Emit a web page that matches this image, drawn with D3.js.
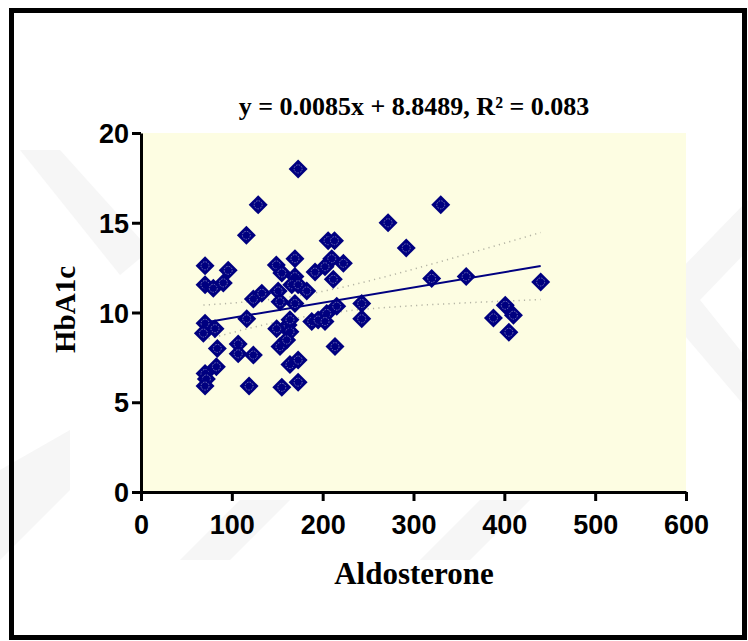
<!DOCTYPE html>
<html>
<head>
<meta charset="utf-8">
<script src="https://cdn.jsdelivr.net/npm/d3@7"></script>
<style>
	body { margin: 0; background: #fff; }
	svg { display: block; }
</style>
</head>
<body>
<div id="chart"></div>
<script>
// Aldosterone (x) vs HbA1c (y)
const aldosterone = [
	173, 129, 116, 330, 272, 292, 320, 358, 440, 243,
	243, 401, 388, 410, 405, 206, 213, 169.5, 210, 149,
	155, 222.8, 202.6, 191.6, 169.5, 211.7, 70.5, 96, 70.5, 79.6,
	90.6, 123.7, 133, 151, 166, 173, 182.5, 153, 169.5, 215.5,
	204.5, 116.4, 70.5, 81.5, 68.7, 149.4, 162, 164, 164, 188,
	195, 202.6, 84, 107, 107, 123.7, 153, 160.4, 213.6, 83,
	70.5, 72, 164, 173, 70.5, 119, 155, 173
]
const hba1c = [
	18.0, 16.0, 14.3, 16.0, 15.0, 13.6, 11.9, 12.0, 11.7, 10.5,
	9.65, 10.4, 9.7, 9.85, 8.9, 14.0, 14.0, 13.0, 13.0, 12.65,
	12.2, 12.74, 12.55, 12.25, 12.0, 11.85, 12.6, 12.35, 11.55, 11.35,
	11.65, 10.75, 11.07, 11.2, 11.55, 11.55, 11.2, 10.6, 10.5, 10.35,
	9.95, 9.65, 9.4, 9.1, 8.85, 9.1, 9.3, 8.93, 9.6, 9.5,
	9.58, 9.5, 8.0, 8.25, 7.7, 7.63, 8.1, 8.47, 8.1, 6.98,
	6.6, 6.3, 7.1, 7.35, 5.9, 5.9, 5.83, 6.12
]
const slope = 0.0085, intercept = 8.8489
const title = 'y = 0.0085x + 8.8489, R² = 0.083'
const xTicks = [0, 100, 200, 300, 400, 500, 600]
const yTicks = [0, 5, 10, 15, 20]

const W = 748, H = 641
const svg = d3.select('#chart').append('svg')
	.attr('width', W)
	.attr('height', H)

// faint watermark
const wm = svg.append('g').attr('fill', '#f6f6f6')
wm.append('path').attr('d', 'M20,150 L60,150 L150,250 L120,275 Z')
wm.append('path').attr('d', 'M0,470 L0,560 L70,490 L70,430 Z')
wm.append('path').attr('d', 'M748,200 L748,250 L700,300 L748,360 L748,410 L680,330 L680,270 Z')
wm.append('path').attr('d', 'M180,560 L240,500 L290,500 L230,560 Z')
wm.append('path').attr('d', 'M420,560 L480,500 L530,500 L470,560 Z')

// outer frame
svg.append('rect')
	.attr('x', 11.5).attr('y', 10.5)
	.attr('width', 733).attr('height', 627)
	.attr('fill', 'none')
	.attr('stroke', '#000')
	.attr('stroke-width', 5)

const x = d3.scaleLinear().domain([0, 600]).range([141, 686])
const y = d3.scaleLinear().domain([0, 20]).range([492, 133])

// plot background
svg.append('rect')
	.attr('x', x(0)).attr('y', y(20))
	.attr('width', x(600) - x(0)).attr('height', y(0) - y(20))
	.attr('fill', '#fdfde2')

// 95% confidence band around the fitted line
const n = aldosterone.length
const xbar = d3.mean(aldosterone)
const sxx = d3.sum(aldosterone, v => (v - xbar) ** 2)
const sse = d3.sum(aldosterone, (v, i) => (hba1c[i] - (intercept + slope * v)) ** 2)
const s = Math.sqrt(sse / (n - 2))
const t = 1.994
const [xmin, xmax] = d3.extent(aldosterone)
const xs = d3.range(0, 61).map(i => xmin + (xmax - xmin) * i / 60)
const half = v => t * s * Math.sqrt(1 / n + (v - xbar) ** 2 / sxx)

const band = d3.line().x(d => x(d[0])).y(d => y(d[1]))
;[1, -1].forEach(sign => {
	svg.append('path')
		.attr('d', band(xs.map(v => [v, intercept + slope * v + sign * half(v)])))
		.attr('fill', 'none')
		.attr('stroke', '#b4b4a4')
		.attr('stroke-width', 1.5)
		.attr('stroke-dasharray', '1.2,4.2')
})

// fitted line
svg.append('line')
	.attr('x1', x(xmin)).attr('y1', y(intercept + slope * xmin))
	.attr('x2', x(xmax)).attr('y2', y(intercept + slope * xmax))
	.attr('stroke', '#000080')
	.attr('stroke-width', 2)

// points
const pts = svg.append('g')
	.selectAll('g')
	.data(aldosterone.map((v, i) => [v, hba1c[i]]))
	.join('g')
	.attr('transform', d => `translate(${x(d[0])},${y(d[1])})`)

pts.append('path')
	.attr('d', 'M0,-9.5 L9.5,0 L0,9.5 L-9.5,0 Z')
	.attr('fill', '#000080')
pts.append('circle')
	.attr('r', 4)
	.attr('fill', 'none')
	.attr('stroke', '#8a8ac0')
	.attr('stroke-width', 0.8)
	.attr('stroke-dasharray', '1.5,1.2')

// axes
const xAxis = svg.append('g')
	.attr('transform', `translate(0,${y(0)})`)
	.call(d3.axisBottom(x).tickValues(xTicks).tickSize(9).tickPadding(14).tickSizeOuter(0))
const yAxis = svg.append('g')
	.attr('transform', `translate(${x(0)},0)`)
	.call(d3.axisLeft(y).tickValues(yTicks).tickSize(9).tickPadding(3).tickSizeOuter(0))

;[xAxis, yAxis].forEach(a => {
	a.select('.domain').attr('stroke', '#000').attr('stroke-width', 3)
	a.selectAll('.tick line').attr('stroke', '#000').attr('stroke-width', 3)
	a.selectAll('.tick text')
		.attr('fill', '#000')
		.style('font-family', '"Liberation Sans", Arial, sans-serif')
		.style('font-weight', 'bold')
		.style('font-size', '27px')
})
yAxis.selectAll('.tick text').attr('dy', '0.36em')

// titles
svg.append('text')
	.attr('x', 414).attr('y', 115)
	.attr('text-anchor', 'middle')
	.style('font-family', '"Liberation Serif", "Times New Roman", serif')
	.style('font-weight', 'bold')
	.style('font-size', '26px')
	.text(title)

svg.append('text')
	.attr('x', 414).attr('y', 584)
	.attr('text-anchor', 'middle')
	.style('font-family', '"Liberation Serif", "Times New Roman", serif')
	.style('font-weight', 'bold')
	.style('font-size', '31px')
	.text('Aldosterone')

svg.append('text')
	.attr('transform', `translate(75,${(y(0) + y(20)) / 2 - 3}) rotate(-90)`)
	.attr('text-anchor', 'middle')
	.style('font-family', '"Liberation Serif", "Times New Roman", serif')
	.style('font-weight', 'bold')
	.style('font-size', '29px')
	.text('HbA1c')
</script>
</body>
</html>
